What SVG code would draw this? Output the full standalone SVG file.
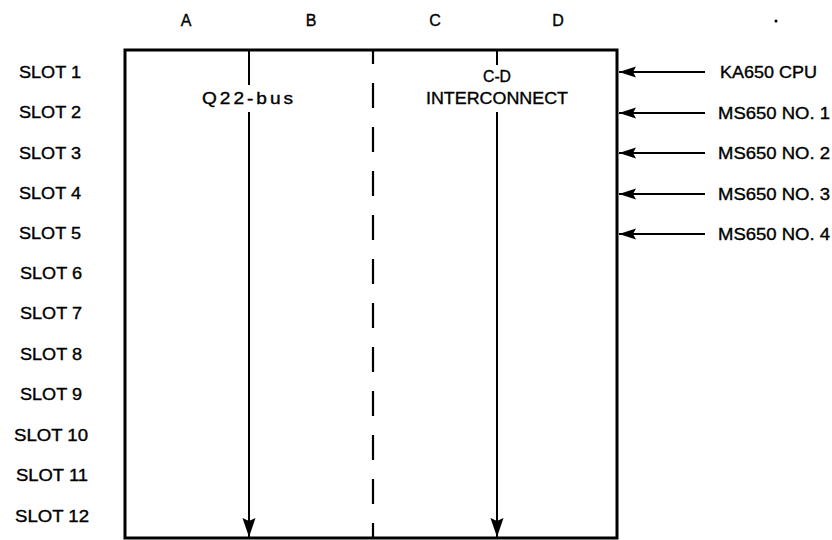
<svg xmlns="http://www.w3.org/2000/svg" width="832" height="540" viewBox="0 0 832 540">
<style>
text{font-family:"Liberation Sans",Arial,sans-serif;font-size:16px;fill:#000;stroke:#000;stroke-width:0.35}
.ln{stroke:#000;stroke-width:2;fill:none}
.box{stroke:#000;stroke-width:3;fill:#fff}
.dash{stroke:#000;stroke-width:2.2;fill:none;stroke-dasharray:25 19;stroke-dashoffset:11}
</style>
<defs>
<marker id="ahd" markerUnits="userSpaceOnUse" markerWidth="20" markerHeight="14" viewBox="0 0 20 14" refX="19" refY="7" orient="auto">
<path d="M0,0.5 L19,7 L0,13.5 L3,7 Z" fill="#000"/>
</marker>
<marker id="ahl" markerUnits="userSpaceOnUse" markerWidth="18" markerHeight="12" viewBox="0 0 18 12" refX="17" refY="6" orient="auto">
<path d="M0,0.5 L17,6 L0,11.5 L3,6 Z" fill="#000"/>
</marker>
</defs>
<g id="backplane">
<rect class="box" x="125" y="50" width="492" height="488"/>
</g>
<g id="columns">
<text x="186" y="26" text-anchor="middle">A</text>
<text x="311" y="26" text-anchor="middle">B</text>
<text x="435" y="26" text-anchor="middle">C</text>
<text x="558" y="26" text-anchor="middle">D</text>
<circle cx="776" cy="21" r="1.5" fill="#000"/>
</g>
<g id="slots">
<text x="50" y="78" text-anchor="middle" textLength="62" lengthAdjust="spacingAndGlyphs">SLOT 1</text>
<text x="50" y="118" text-anchor="middle" textLength="62" lengthAdjust="spacingAndGlyphs">SLOT 2</text>
<text x="50" y="159" text-anchor="middle" textLength="62" lengthAdjust="spacingAndGlyphs">SLOT 3</text>
<text x="50" y="199" text-anchor="middle" textLength="62" lengthAdjust="spacingAndGlyphs">SLOT 4</text>
<text x="50" y="239" text-anchor="middle" textLength="62" lengthAdjust="spacingAndGlyphs">SLOT 5</text>
<text x="51" y="279" text-anchor="middle" textLength="62" lengthAdjust="spacingAndGlyphs">SLOT 6</text>
<text x="51" y="319" text-anchor="middle" textLength="62" lengthAdjust="spacingAndGlyphs">SLOT 7</text>
<text x="51" y="360" text-anchor="middle" textLength="62" lengthAdjust="spacingAndGlyphs">SLOT 8</text>
<text x="51" y="400" text-anchor="middle" textLength="62" lengthAdjust="spacingAndGlyphs">SLOT 9</text>
<text x="51" y="441" text-anchor="middle" textLength="74" lengthAdjust="spacingAndGlyphs">SLOT 10</text>
<text x="52" y="481" text-anchor="middle" textLength="72" lengthAdjust="spacingAndGlyphs">SLOT 11</text>
<text x="52" y="522" text-anchor="middle" textLength="74" lengthAdjust="spacingAndGlyphs">SLOT 12</text>
</g>
<g id="q22bus">
<text x="249" y="104" text-anchor="middle" textLength="94" lengthAdjust="spacingAndGlyphs" style="letter-spacing:2.5px">Q22-bus</text>
</g>
<g id="cd-interconnect">
<text x="497" y="82" text-anchor="middle" textLength="28" lengthAdjust="spacingAndGlyphs">C-D</text>
<text x="497" y="104" text-anchor="middle" textLength="142" lengthAdjust="spacingAndGlyphs">INTERCONNECT</text>
</g>
<g id="modules">
<text x="720" y="78" textLength="97" lengthAdjust="spacingAndGlyphs">KA650 CPU</text>
<text x="718" y="119" textLength="112" lengthAdjust="spacingAndGlyphs">MS650 NO. 1</text>
<text x="718" y="159" textLength="112" lengthAdjust="spacingAndGlyphs">MS650 NO. 2</text>
<text x="718" y="200" textLength="112" lengthAdjust="spacingAndGlyphs">MS650 NO. 3</text>
<text x="718" y="240" textLength="112" lengthAdjust="spacingAndGlyphs">MS650 NO. 4</text>
</g>
<g id="connectors">
<line class="ln" x1="249" y1="50" x2="249" y2="85"/>
<line class="ln" x1="249" y1="112" x2="249" y2="537" marker-end="url(#ahd)"/>
<line class="ln" x1="497" y1="50" x2="497" y2="65"/>
<line class="ln" x1="497" y1="112" x2="497" y2="537" marker-end="url(#ahd)"/>
<line class="dash" x1="373" y1="50" x2="373" y2="538"/>
<line class="ln" x1="705" y1="72" x2="619" y2="72" marker-end="url(#ahl)"/>
<line class="ln" x1="705" y1="113" x2="619" y2="113" marker-end="url(#ahl)"/>
<line class="ln" x1="705" y1="153" x2="619" y2="153" marker-end="url(#ahl)"/>
<line class="ln" x1="705" y1="194" x2="619" y2="194" marker-end="url(#ahl)"/>
<line class="ln" x1="705" y1="234" x2="619" y2="234" marker-end="url(#ahl)"/>
</g>
</svg>
